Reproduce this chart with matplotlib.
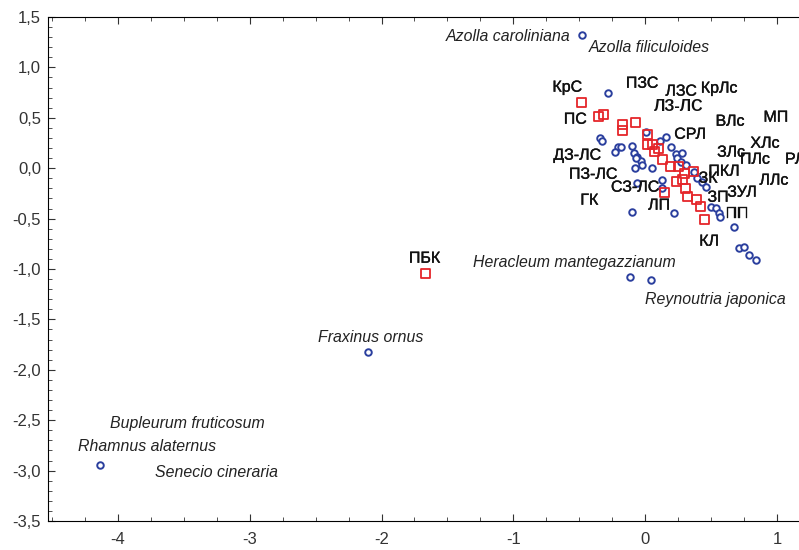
import numpy as np
import matplotlib.pyplot as plt
import matplotlib.patheffects as pe
from matplotlib.ticker import MultipleLocator, FuncFormatter

plt.rcParams['font.family'] = ['Liberation Sans', 'DejaVu Sans']

# red squares (sites)
site_x = [-1.667, -0.485, -0.356, -0.318, -0.174, -0.174, -0.076, 0.015, 0.015, 0.053,
          0.098, 0.068, 0.129, 0.189, 0.250, 0.295, 0.364, 0.235, 0.280, 0.144,
          0.303, 0.318, 0.386, 0.417, 0.447]
site_y = [-1.042, 0.655, 0.516, 0.536, 0.437, 0.377, 0.456, 0.337, 0.238, 0.238,
          0.198, 0.169, 0.089, 0.020, 0.020, -0.050, -0.030, -0.129, -0.109, -0.238,
          -0.198, -0.278, -0.308, -0.377, -0.506]

# blue circles (species)
sp_x = [-0.477, -0.280, -0.341, -0.326, -0.205, -0.182, -0.227, -0.098, -0.083, -0.061,
        -0.030, -0.023, -0.076, -0.068, 0.008, 0.114, 0.159, 0.053, 0.197, 0.235,
        0.280, 0.242, 0.273, 0.311, 0.371, 0.394, 0.432, 0.462, -0.061, 0.129,
        0.129, 0.500, 0.538, 0.561, 0.568, -0.098, 0.220, 0.674, 0.712, 0.750,
        0.788, 0.841, -0.114, 0.045, -2.106, -4.136]
sp_y = [1.320, 0.744, 0.298, 0.268, 0.208, 0.208, 0.159, 0.218, 0.149, 0.109,
        0.069, 0.030, 0.000, 0.099, 0.357, 0.268, 0.308, 0.000, 0.208, 0.139,
        0.149, 0.099, 0.060, 0.030, -0.040, -0.099, -0.139, -0.188, -0.149, -0.119,
        -0.198, -0.387, -0.397, -0.446, -0.486, -0.437, -0.446, -0.585, -0.794, -0.784,
        -0.863, -0.913, -1.081, -1.111, -1.825, -2.946]

# site labels
site_labels = ['КрС', 'ПЗС', 'ЛЗС', 'КрЛс', 'ЛЗ-ЛС', 'ПС', 'ВЛс', 'МП', 'СРЛ', 'ХЛс',
               'ДЗ-ЛС', 'ЗЛс', 'ПЛс', 'ПЗ-ЛС', 'ПКЛ', 'ЗК', 'ЛЛс', 'СЗ-ЛС', 'ЗП',
               'ЗУЛ', 'ГК', 'ЛП', 'ПП', 'КЛ', 'ПБК']
site_lab_pos = [(-0.591, 0.804), (-0.023, 0.843), (0.273, 0.764), (0.561, 0.794),
                (0.258, 0.615), (-0.530, 0.486), (0.644, 0.466), (0.992, 0.506),
                (0.341, 0.337), (0.909, 0.248), (-0.515, 0.129), (0.652, 0.159),
                (0.833, 0.089), (-0.394, -0.060), (0.598, -0.030), (0.477, -0.099),
                (0.977, -0.119), (-0.076, -0.188), (0.553, -0.288), (0.735, -0.238),
                (-0.424, -0.317), (0.106, -0.367), (0.697, -0.446), (0.485, -0.724),
                (-1.674, -0.893)]

# species labels
sp_labels = ['Azolla caroliniana', 'Azolla filiculoides', 'Heracleum mantegazzianum',
             'Reynoutria japonica', 'Fraxinus ornus', 'Bupleurum fruticosum',
             'Rhamnus alaternus', 'Senecio cineraria']
sp_lab_pos = [(-1.515, 1.310), (-0.424, 1.200), (-1.303, -0.933), (0.0, -1.300),
              (-2.485, -1.677), (-4.061, -2.530), (-4.303, -2.758), (-3.720, -3.016)]

fig = plt.figure(figsize=(7.99, 5.5), dpi=100)
ax = fig.add_axes([48 / 799, 29 / 550, (799 - 48) / 799, (521 - 17) / 550])

ax.scatter(sp_x, sp_y, s=22, marker='o', facecolors='white', edgecolors='#2b3f9e',
           linewidths=1.4, zorder=3)
ax.scatter(site_x, site_y, s=42, marker='s', facecolors='none', edgecolors='#e5252a',
           linewidths=1.3, zorder=4)

thick = [pe.withStroke(linewidth=0.25, foreground='#111111')]
for lab, (x, y) in zip(site_labels, site_lab_pos):
    bold = lab == 'ЛЗ-ЛС'
    ax.text(x, y, lab, fontsize=11.5, ha='center', va='center', color='#111111',
            weight='bold' if bold else 'normal', zorder=5,
            path_effects=None if bold else thick)
ax.text(1.061, 0.089, 'РЛ', fontsize=11.5, ha='left', va='center', color='#111111',
        clip_on=False, path_effects=thick)

for lab, (x, y) in zip(sp_labels, sp_lab_pos):
    ax.text(x, y, lab, fontsize=11.4, style='italic', ha='left', va='center',
            color='#222222', zorder=5)

ax.set_xlim(-4.53, 1.167)
ax.set_ylim(-3.5, 1.5)
ax.spines['right'].set_visible(False)
ax.xaxis.set_major_locator(MultipleLocator(1))
ax.xaxis.set_minor_locator(MultipleLocator(0.25))
ax.yaxis.set_major_locator(MultipleLocator(0.5))
ax.yaxis.set_minor_locator(MultipleLocator(0.1))
ax.xaxis.set_major_formatter(FuncFormatter(lambda v, p: f'{v:.0f}'))
ax.yaxis.set_major_formatter(FuncFormatter(lambda v, p: f'{v:.1f}'.replace('.', ',')))
ax.tick_params(which='both', direction='in', top=True, right=False, labelsize=12,
               colors='#333333')
ax.tick_params(which='major', length=5)
ax.tick_params(which='minor', length=3)
ax.tick_params(axis='x', pad=8)
ax.tick_params(axis='y', pad=5)

fig.savefig('out.png', dpi=100)
